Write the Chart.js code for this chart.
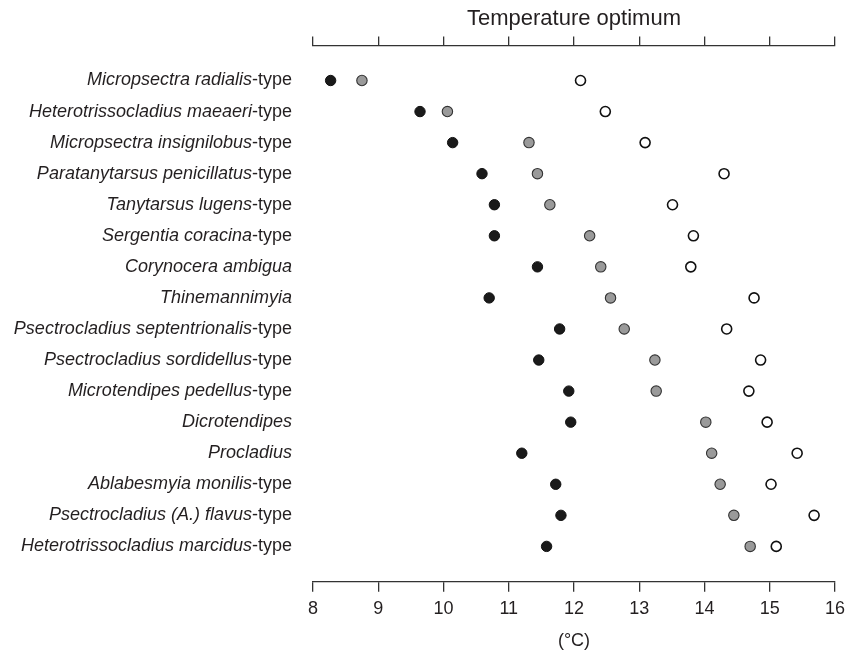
<!DOCTYPE html>
<html>
<head>
<meta charset="utf-8">
<script src="https://cdn.jsdelivr.net/npm/chart.js@4.4.1/dist/chart.umd.min.js"></script>
<style>
  html, body { margin: 0; padding: 0; background: #fff; }
  #wrap { width: 851px; height: 654px; }
</style>
</head>
<body>
<div id="wrap"><canvas id="optChart" width="851" height="654"></canvas></div>
<script>
// Taxa, top to bottom: italic part and upright suffix
const taxa = [
    'Micropsectra radialis', 'Heterotrissocladius maeaeri', 'Micropsectra insignilobus',
    'Paratanytarsus penicillatus', 'Tanytarsus lugens', 'Sergentia coracina',
    'Corynocera ambigua', 'Thinemannimyia', 'Psectrocladius septentrionalis',
    'Psectrocladius sordidellus', 'Microtendipes pedellus', 'Dicrotendipes',
    'Procladius', 'Ablabesmyia monilis', 'Psectrocladius (A.) flavus',
    'Heterotrissocladius marcidus'
];
const suffixes = [
    '-type', '-type', '-type', '-type', '-type', '-type',
    '', '', '-type', '-type', '-type', '', '', '-type', '-type', '-type'
];

// Temperature optimum (°C) per taxon
const blackValues = [8.27, 9.64, 10.14, 10.59, 10.78, 10.78, 11.44, 10.70, 11.78, 11.46, 11.92, 11.95, 11.20, 11.72, 11.80, 11.58];
const greyValues  = [8.75, 10.06, 11.31, 11.44, 11.63, 12.24, 12.41, 12.56, 12.77, 13.24, 13.26, 14.02, 14.11, 14.24, 14.45, 14.70];
const whiteValues = [12.10, 12.48, 13.09, 14.30, 13.51, 13.83, 13.79, 14.76, 14.34, 14.86, 14.68, 14.96, 15.42, 15.02, 15.68, 15.10];

const xTicks = [8, 9, 10, 11, 12, 13, 14, 15, 16];

const FONT = "'Liberation Sans', Arial, Helvetica, sans-serif";
const INK = '#231f20';

function toPoints(values) {
    return values.map((v, i) => ({ x: v, y: i }));
}

// Draws the taxon names left of the plot (italic name + upright suffix)
const taxonLabels = {
    id: 'taxonLabels',
    afterDraw(chart) {
        const ctx = chart.ctx;
        const yScale = chart.scales.y;
        const right = chart.chartArea.left - 21;
        ctx.save();
        ctx.fillStyle = INK;
        ctx.textBaseline = 'middle';
        ctx.textAlign = 'left';
        taxa.forEach((name, i) => {
            const y = yScale.getPixelForValue(i);
            ctx.font = '18px ' + FONT;
            const sw = ctx.measureText(suffixes[i]).width;
            ctx.font = 'italic 18px ' + FONT;
            const nw = ctx.measureText(name).width;
            const x0 = right - sw - nw;
            ctx.fillText(name, x0, y);
            if (suffixes[i]) {
                ctx.font = '18px ' + FONT;
                ctx.fillText(suffixes[i], x0 + nw, y);
            }
        });
        ctx.restore();
    }
};

const axisLine = { color: '#333', width: 1.3 };

new Chart(document.getElementById('optChart').getContext('2d'), {
    type: 'scatter',
    data: {
        datasets: [
            {
                data: toPoints(blackValues),
                backgroundColor: '#1a1a1a',
                borderColor: '#111',
                borderWidth: 1,
                pointRadius: 5.2
            },
            {
                data: toPoints(greyValues),
                backgroundColor: '#9a9a9a',
                borderColor: '#333',
                borderWidth: 1.1,
                pointRadius: 5.2
            },
            {
                data: toPoints(whiteValues),
                backgroundColor: '#ffffff',
                borderColor: '#111',
                borderWidth: 1.6,
                pointRadius: 5
            }
        ]
    },
    options: {
        responsive: false,
        animation: false,
        events: [],
        layout: { padding: { left: 313, right: 12, top: 0, bottom: 2 } },
        plugins: {
            legend: { display: false },
            tooltip: { enabled: false }
        },
        scales: {
            x: {
                type: 'linear',
                position: 'bottom',
                min: 8,
                max: 16,
                afterBuildTicks: (scale) => { scale.ticks = xTicks.map(v => ({ value: v })); },
                ticks: { color: INK, font: { family: FONT, size: 18 }, padding: 6 },
                grid: { drawOnChartArea: false, color: '#333', lineWidth: 1.3, tickLength: 10 },
                border: axisLine,
                title: {
                    display: true,
                    text: '(°C)',
                    color: INK,
                    font: { family: FONT, size: 18 },
                    padding: { top: 5, bottom: 0 }
                }
            },
            x2: {
                type: 'linear',
                position: 'top',
                min: 8,
                max: 16,
                afterBuildTicks: (scale) => { scale.ticks = xTicks.map(v => ({ value: v })); },
                ticks: { display: false },
                grid: { drawOnChartArea: false, color: '#333', lineWidth: 1.3, tickLength: 9 },
                border: axisLine,
                title: {
                    display: true,
                    text: 'Temperature optimum',
                    color: INK,
                    font: { family: FONT, size: 22 },
                    padding: { top: 6, bottom: 4 }
                }
            },
            y: {
                type: 'linear',
                reverse: true,
                min: -1.13,
                max: 16.14,
                display: false
            }
        }
    },
    plugins: [taxonLabels]
});
</script>
</body>
</html>
